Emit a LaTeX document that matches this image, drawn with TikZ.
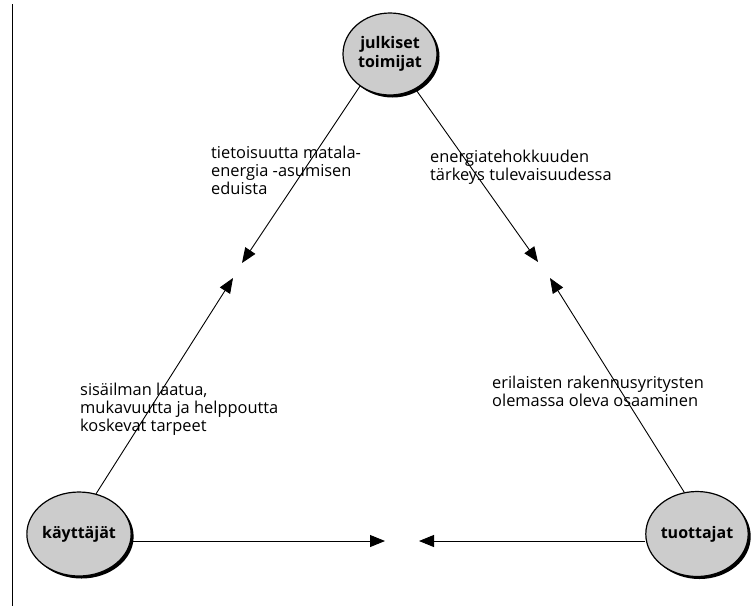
\documentclass[tikz,border=0pt]{standalone}
\usepackage{fontspec}
\setmainfont{Open Sans}
\usetikzlibrary{shapes.geometric,shadows,arrows.meta}
\definecolor{bubblegray}{HTML}{CCCCCC}
\begin{document}
\begin{tikzpicture}[x=1pt,y=-1pt,
    actor/.style={ellipse,draw,line width=1.2pt,fill=bubblegray,inner sep=0pt,
      font=\fontsize{16}{19}\selectfont\bfseries,align=center,
      drop shadow={shadow xshift=2.5pt,shadow yshift=-2.5pt,fill=black,opacity=1}},
    flow/.style={line width=0.9pt,-{Triangle[length=15pt,width=12pt]}},
    note/.style={anchor=north west,inner sep=0pt,align=left,
      font=\fontsize{16.4}{18}\selectfont}]
  \useasboundingbox (0,0) rectangle (751,614);
  % frame line on the left
  \draw[line width=1pt] (12,4) -- (12,606);

  % actors
  \node[actor,minimum width=94pt,minimum height=82pt] (julk) at (390,54) {julkiset\\toimijat};
  \node[actor,minimum width=100pt,minimum height=84pt] (kayt) at (79,534) {käyttäjät};
  \node[actor,minimum width=93pt,minimum height=85pt] (tuot) at (697,534) {tuottajat};

  % arrow tips
  \coordinate (tipTL) at (242,263);
  \coordinate (tipBL) at (233,278);
  \coordinate (tipTR) at (538,262);
  \coordinate (tipBR) at (550,278);
  \coordinate (tipML) at (385,541);
  \coordinate (tipMR) at (419,541);

  % connectors
  \draw[flow] (julk.227) -- (tipTL);
  \draw[flow] (julk.306) -- (tipTR);
  \draw[flow] (kayt.67) -- (tipBL);
  \draw[flow] (tuot.107) -- (tipBR);
  \draw[flow] (kayt.east |- tipML) -- (tipML);
  \draw[flow] (tuot.west |- tipMR) -- (tipMR);

  % labels
  \node[note] (needsA) at (211,145.5) {tietoisuutta matala-\\energia -asumisen\\eduista};
  \node[note] (needsB) at (430,149.5) {energiatehokkuuden\\tärkeys tulevaisuudessa};
  \node[note] (needsC) at (80,382.5) {sisäilman laatua,\\mukavuutta ja helppoutta\\koskevat tarpeet};
  \node[note] (needsD) at (492,375.5) {erilaisten rakennusyritysten\\olemassa oleva osaaminen};
\end{tikzpicture}
\end{document}
